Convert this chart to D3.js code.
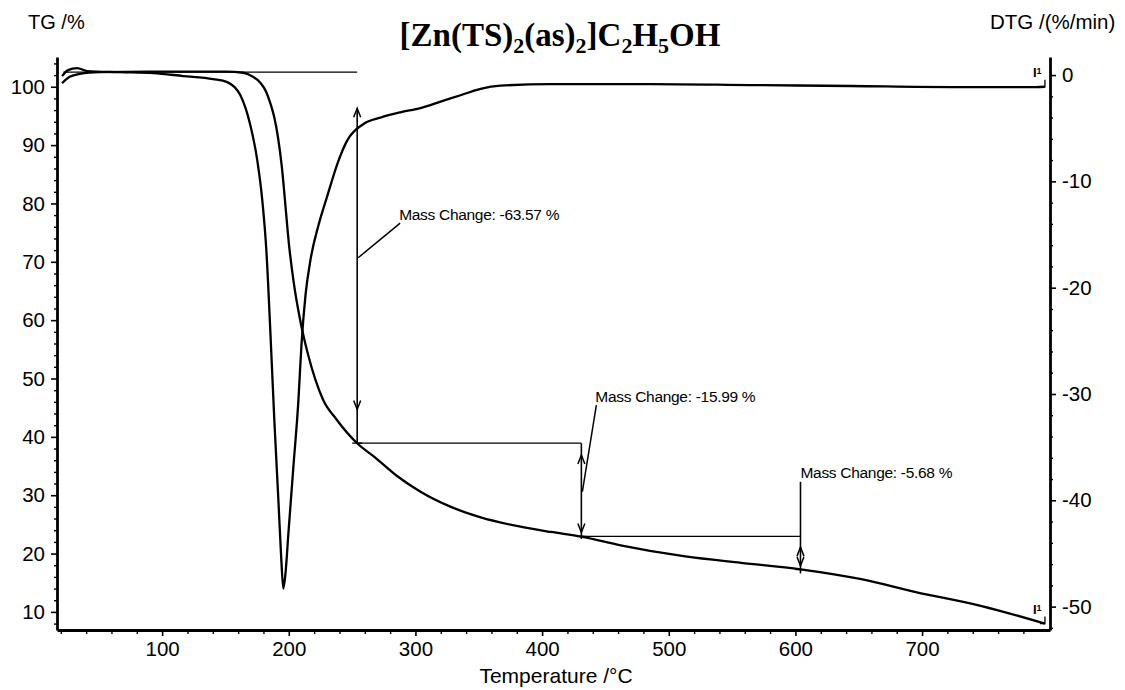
<!DOCTYPE html>
<html><head><meta charset="utf-8">
<script src="https://cdn.jsdelivr.net/npm/d3@7"></script>
<style>
body{margin:0;background:#fff}
svg{display:block}
text{font-family:"Liberation Sans",Arial,sans-serif;fill:#000}
</style>
</head><body>
<svg id="c" width="1125" height="690"></svg>
<script>
// ---- data ----
const xTicks = [100,200,300,400,500,600,700];
const tgTicks = [10,20,30,40,50,60,70,80,90,100];
const dtgTicks = [0,-10,-20,-30,-40,-50];

const tgT = [21,27,35,51,90,150,164,171,177.5,182,185.4,188.5,191.5,194.5,197,200,204,209,215,221,227,238,254,268.5,286,304,328,351.5,383,407,431,462,513,557,604,652,695,747,797];
const tgV = [100.6,101.7,102.2,102.5,102.6,102.6,102.4,101.8,100.7,99.2,97.2,94.8,91.3,86.3,80.5,73.3,66.3,60.0,54.3,49.8,46.4,42.9,38.9,36.4,33.2,30.6,28.0,26.2,24.6,23.7,22.9,21.4,19.5,18.4,17.3,15.6,13.4,11.0,8.0];

const dtgT = [21,25.7,32.8,40.7,66.8,92.9,116.6,140.3,151.4,161.7,169.6,175.1,179.1,182.3,185.4,188.6,191.8,194.1,195.7,197.3,199.7,203.6,207.6,210,213.2,217.1,223.5,230.6,238.5,246.4,259,272.4,288.1,304,319.8,335.6,351.4,367.2,406.7,485.8,564.8,643.9,722.9,790,797];
const dtgV = [-0.1,0.47,0.66,0.38,0.28,0.19,-0.09,-0.38,-0.66,-1.88,-4.7,-8.0,-11.8,-16.5,-24.0,-32.5,-40.0,-45.6,-48.3,-47.0,-43.1,-36.9,-30.6,-25.4,-20.7,-17.4,-14.1,-11.3,-8.3,-6.1,-4.6,-4.0,-3.5,-3.1,-2.5,-1.9,-1.3,-1.0,-0.85,-0.85,-0.94,-1.03,-1.13,-1.13,-1.1];

const startLevel = 102.5;
const startT = 22;
const annT = [254, 431, 604];
const annChange = [-63.57, -15.99, -5.68];
const annLabelTG = [78, 46.8, 33.8];
const annArrowTG = [[96.3, 44.7], [36.9, 23.6], [21.1, 17.9]];
const annLineTG = [[96.3, 38.9], [38.9, 22.5], [32.3, 16.6]];
const annLeaderTG = [70.7, 30.6, null];

// ---- layout ----
const svg = d3.select('#c');
const x = d3.scaleLinear([17, 801], [57, 1050]);
const yL = d3.scaleLinear([6.9, 105.1], [630, 57]);
const yR = d3.scaleLinear([-52.2, 1.7], [630, 57]);
const tickFont = 20.5;

function styleAxis(g, w){
  g.select('.domain').attr('stroke-width', w).attr('stroke','#000');
  g.selectAll('.tick line').attr('stroke-width', 1.6).attr('stroke','#000');
  g.selectAll('.tick text').attr('font-size', tickFont).attr('font-family','"Liberation Sans",Arial,sans-serif');
}

// left axis
const gL = svg.append('g').attr('transform','translate(57,0)')
  .call(d3.axisLeft(yL).tickValues(tgTicks).tickSize(6).tickSizeOuter(0).tickPadding(6));
styleAxis(gL, 2.8);
svg.append('g').attr('transform','translate(57,0)')
  .call(d3.axisLeft(yL).tickValues(d3.range(8,105,2).filter(v=>v%10!==0)).tickSize(3).tickFormat(''))
  .call(g=>{g.select('.domain').remove(); g.selectAll('line').attr('stroke-width',1.4);});

// right axis
const gR = svg.append('g').attr('transform','translate(1050,0)')
  .call(d3.axisRight(yR).tickValues(dtgTicks).tickSize(6).tickSizeOuter(0).tickPadding(6).tickFormat(d=>String(d)));
styleAxis(gR, 2.8);
svg.append('g').attr('transform','translate(1050,0)')
  .call(d3.axisRight(yR).tickValues(d3.range(-52,2,2).filter(v=>v%10!==0)).tickSize(3).tickFormat(''))
  .call(g=>{g.select('.domain').remove(); g.selectAll('line').attr('stroke-width',1.4);});

// bottom axis
const gB = svg.append('g').attr('transform','translate(0,630)')
  .call(d3.axisBottom(x).tickValues(xTicks).tickSize(6).tickSizeOuter(0).tickPadding(5));
styleAxis(gB, 2.8);
svg.append('g').attr('transform','translate(0,630)')
  .call(d3.axisBottom(x).tickValues(d3.range(20,801,20).filter(v=>v%100!==0)).tickSize(4).tickFormat(''))
  .call(g=>{g.select('.domain').remove(); g.selectAll('line').attr('stroke-width',1.4);});

// axis titles
svg.append('text').attr('x',28).attr('y',29).attr('font-size',20).text('TG /%');
svg.append('text').attr('x',990).attr('y',29).attr('font-size',20.5).text('DTG /(%/min)');
svg.append('text').attr('x',556).attr('y',683).attr('font-size',21).attr('text-anchor','middle').text('Temperature /°C');

// title
const tt = svg.append('text').attr('x',560).attr('y',46).attr('text-anchor','middle')
  .attr('font-family','"Liberation Serif","Times New Roman",serif').attr('font-weight','bold').attr('font-size',33);
const parts = [['[Zn(TS)',0],['2',1],['(as)',0],['2',1],[']C',0],['2',1],['H',0],['5',1],['OH',0]];
let prevSub = 0;
parts.forEach(([s,sub])=>{
  const ts = tt.append('tspan').text(s).attr('style','font-family:"Liberation Serif","Times New Roman",serif');
  if(sub){ ts.attr('font-size',22).attr('dy', 7); }
  else if(prevSub){ ts.attr('dy', -7); }
  prevSub = sub;
});

// curves
const tgData = tgT.map((t,i)=>[t,tgV[i]]);
const dtgData = dtgT.map((t,i)=>[t,dtgV[i]]);
const lineTG = d3.line().x(d=>x(d[0])).y(d=>yL(d[1])).curve(d3.curveMonotoneX);
const lineDTG = d3.line().x(d=>x(d[0])).y(d=>yR(d[1])).curve(d3.curveMonotoneX);
svg.append('path').attr('d',lineTG(tgData)).attr('fill','none').attr('stroke','#000').attr('stroke-width',2.3);
svg.append('path').attr('d',lineDTG(dtgData)).attr('fill','none').attr('stroke','#000').attr('stroke-width',2.3);

// end hooks and segment markers
const endTG = tgData[tgData.length-1], endDTG = dtgData[dtgData.length-1];
[[x(endTG[0]), yL(endTG[1])],[x(endDTG[0]), yR(endDTG[1])]].forEach(([ex,ey])=>{
  svg.append('path').attr('d',`M${ex-5},${ey}L${ex},${ey}L${ex},${ey-7}`).attr('fill','none').attr('stroke','#000').attr('stroke-width',1.3);
  const m = svg.append('text').attr('x',ex-12).attr('y',ey-10).attr('font-size',13).attr('font-weight','bold');
  m.append('tspan').text('I');
  m.append('tspan').text('1').attr('font-size',9).attr('dy',-3);
});

// mass change annotations
const levels = [startLevel];
annChange.forEach(c=>levels.push(+(levels[levels.length-1]+c).toFixed(2)));
const labelDx = [42, 14, 0];
const ann = svg.append('g').attr('stroke','#000').attr('fill','none');
function chevron(cx, tipY, dir){ // dir -1 up, +1 down
  ann.append('path').attr('d',`M${cx-3.5},${tipY-dir*9}L${cx},${tipY}L${cx+3.5},${tipY-dir*9}`).attr('stroke-width',1.5);
}
annT.forEach((t,i)=>{
  const xa = x(t);
  const x0 = x(i===0 ? startT : annT[i-1]);
  ann.append('line').attr('x1',x0).attr('x2',xa).attr('y1',yL(levels[i])).attr('y2',yL(levels[i])).attr('stroke-width',1.4);
  ann.append('line').attr('x1',xa).attr('x2',xa).attr('y1',yL(annLineTG[i][0])).attr('y2',yL(annLineTG[i][1])).attr('stroke-width',1.6);
  chevron(xa, yL(annArrowTG[i][0]), -1);
  chevron(xa, yL(annArrowTG[i][1]), 1);
  ann.append('line').attr('x1',xa-5).attr('x2',xa+5).attr('y1',yL(levels[i+1])).attr('y2',yL(levels[i+1])).attr('stroke-width',1.3);
  const lx = xa + labelDx[i], ly = yL(annLabelTG[i]);
  if(annLeaderTG[i] !== null){
    ann.append('line').attr('x1',lx+1).attr('y1',ly+8).attr('x2',xa+1).attr('y2',yL(annLeaderTG[i])).attr('stroke-width',1.5);
  }
  svg.append('text').attr('x',lx).attr('y',ly+5).attr('font-size',15.5).attr('letter-spacing',-0.3)
    .text(`Mass Change: ${annChange[i].toFixed(2)} %`);
});
</script>
</body></html>
